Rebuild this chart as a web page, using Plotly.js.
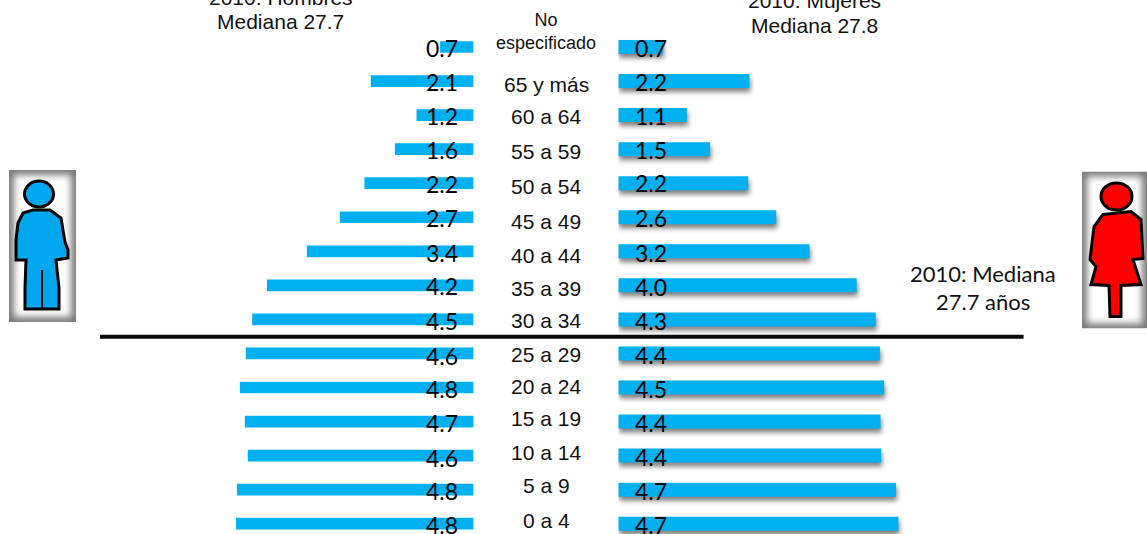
<!DOCTYPE html>
<html>
<head>
<meta charset="utf-8">
<script src="https://cdn.plot.ly/plotly-3.0.1.min.js"></script>
<style>html,body{margin:0;padding:0;background:#fff;overflow:hidden}</style>
</head>
<body>
<div id="chart" style="width:1147px;height:534px"></div>
<script>
// Data, bottom of the pyramid first
const ageGroups = ["0 a 4","5 a 9","10 a 14","15 a 19","20 a 24","25 a 29","30 a 34","35 a 39","40 a 44","45 a 49","50 a 54","55 a 59","60 a 64","65 y más","No<br>especificado"];
const menBars   = [4.83,4.81,4.59,4.65,4.75,4.63,4.50,4.20,3.39,2.72,2.22,1.60,1.16,2.09,0.68];
const womenBars = [4.70,4.66,4.41,4.40,4.46,4.39,4.32,4.00,3.21,2.65,2.18,1.54,1.15,2.20,0.75];
const menLabels   = ["4.8","4.8","4.6","4.7","4.8","4.6","4.5","4.2","3.4","2.7","2.2","1.6","1.2","2.1","0.7"];
const womenLabels = ["4.7","4.7","4.4","4.4","4.5","4.4","4.3","4.0","3.2","2.6","2.2","1.5","1.1","2.2","0.7"];

// Layout constants
const W = 1147, H = 534;
const px = v => v / W, py = v => 1 - v / H;
const menZero = 473.6, womenZero = 618.3, menScale = 49.2, womenScale = 59.6;
const rowPx = 34.05, firstRowPx = 523.7;
const ageShift = [3.7,3.7,2.7,2.7,0.7,-1.3,-1.3,-3.3,-4.3,-4.7,-3.7,-2.7,-1.7,-3.7,15.5];
const menLabelShift = [-1.3,-1.3,-2.3,-1.3,-1.3,-2.3,-1.8,-0.8,-1.3,-0.7,-0.4,-0.7,-0.4,-0.7,-0.5];
const womenLabelShift = [-1.3,-1.3,-1.3,-1.3,-1.3,-1.3,-1.3,-1.3,-1.3,-0.7,-0.2,-0.7,-1,-0.7,-0.7];
const sans = "Liberation Sans, Arial, sans-serif", lato = "Lato, Carlito, Calibri, sans-serif", ink = "#111";

const traces = [
  {type:"bar", orientation:"h", y:ageGroups, x:menBars, xaxis:"x", yaxis:"y", width:0.344, marker:{color:"#00B0F0"}, hoverinfo:"skip"},
  {type:"bar", orientation:"h", y:ageGroups, x:womenBars, xaxis:"x2", yaxis:"y", width:0.41, marker:{color:"#00B0F0"}, hoverinfo:"skip"}
];

const annotations = [];
const centred = {showarrow:false, xanchor:"center", yanchor:"middle", borderpad:0};
ageGroups.forEach((g,i) => {
  annotations.push({...centred, xref:"paper", yref:"y", x:px(546), y:g, yshift:ageShift[i], text:g,
    font:{family:sans, size:i===14?18:21, color:ink}});
  annotations.push({...centred, xref:"x", yref:"y", x:(menZero-441.5)/menScale, y:g, yshift:menLabelShift[i], text:menLabels[i],
    font:{family:lato, size:23, color:"#000"}});
  annotations.push({...centred, xref:"x2", yref:"y", x:(651-womenZero)/womenScale, y:g, yshift:womenLabelShift[i], text:womenLabels[i],
    font:{family:lato, size:23, color:"#000"}});
});
const note = (x,y,text,family,size) => annotations.push({...centred,xref:"paper",yref:"paper",x:px(x),y:py(y),text,font:{family,size,color:ink}});
note(280.5,-2,"2010: Hombres",sans,21);
note(280.5,22,"Mediana 27.7",sans,21);
note(814,0,"2010: Mujeres",sans,21);
note(814,25,"Mediana 27.8",sans,21);
note(983,273,"2010: Mediana",lato,22);
note(983,301,"27.7 años",lato,22);

const frame = (w,h,body) => "data:image/svg+xml;utf8," + encodeURIComponent(
  `<svg xmlns="http://www.w3.org/2000/svg" width="${w}" height="${h}" viewBox="0 0 ${w} ${h}">`+
  `<defs><filter id="b" x="-30%" y="-30%" width="160%" height="160%"><feGaussianBlur stdDeviation="3.5"/></filter></defs>`+
  `<rect width="${w}" height="${h}" fill="#7a7a7a"/><rect x="5" y="5" width="${w-10}" height="${h-10}" fill="#fff" filter="url(#b)"/>`+body+`</svg>`);

const manIcon = frame(67,152,
  `<g fill="#00A8F0" stroke="#000" stroke-width="3" stroke-linejoin="miter">`+
  `<ellipse cx="30" cy="24" rx="14.5" ry="13"/>`+
  `<path d="M24 40 L41 40 L52 48 L56 72 L59 80 L59 88 L47 90 L50 118 L50 139 L16 139 L16 118 L17 90 L7 90 L7 70 L9 53 L14 43 Z"/>`+
  `<path d="M33 100 L33 138" fill="none" stroke-width="2"/></g>`);
const womanIcon = frame(65,157,
  `<g fill="#FF0000" stroke="#000" stroke-width="3" stroke-linejoin="miter">`+
  `<ellipse cx="34.5" cy="25" rx="15.5" ry="13.5"/>`+
  `<path d="M21 43 L49 40 L59 48 L61 87 L51 88 L59 113 L39 114 L39 145 L28 145 L27 114 L9 113 L14 95 L8 88 L12 55 Z"/></g>`);

const layout = {
  width:W, height:H, margin:{l:0,r:0,t:0,b:0}, paper_bgcolor:"#fff", plot_bgcolor:"rgba(0,0,0,0)",
  showlegend:false, barmode:"overlay",
  xaxis:{domain:[0,px(menZero)], range:[menZero/menScale,0], visible:false, fixedrange:true},
  xaxis2:{domain:[px(womenZero),1], range:[0,(W-womenZero)/womenScale], visible:false, fixedrange:true},
  yaxis:{domain:[0,1], range:[(firstRowPx-H)/rowPx, firstRowPx/rowPx], type:"category", categoryorder:"array", categoryarray:ageGroups, visible:false, fixedrange:true},
  shapes:[{type:"line", xref:"paper", yref:"paper", x0:px(100), x1:px(1023.6), y0:py(336.8), y1:py(336.8), line:{color:"#0a0a0a", width:4}}],
  annotations,
  images:[
    {source:manIcon, xref:"paper", yref:"paper", x:px(9), y:py(170), sizex:px(67), sizey:152/H, sizing:"stretch", xanchor:"left", yanchor:"top", layer:"above"},
    {source:womanIcon, xref:"paper", yref:"paper", x:px(1082), y:py(171.5), sizex:px(65), sizey:157/H, sizing:"stretch", xanchor:"left", yanchor:"top", layer:"above"}
  ]
};

Plotly.newPlot("chart", traces, layout, {displayModeBar:false, staticPlot:true}).then(() => {
  const g = document.querySelector(".subplot.x2y .barlayer");
  if (g) g.style.filter = "drop-shadow(1.5px 4px 2.5px rgba(0,0,0,0.5))";
});
</script>
</body>
</html>
